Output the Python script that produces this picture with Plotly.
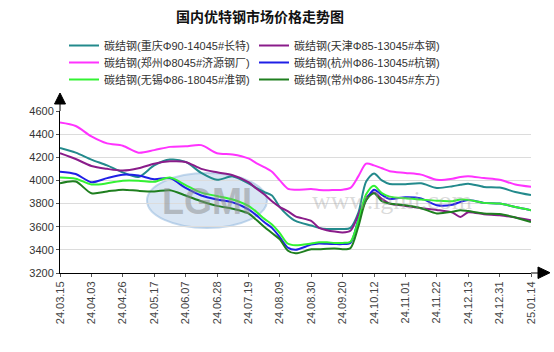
import plotly.graph_objects as go

# tick labels (category dates, equally spaced)
tick_labels = ["24.03.15", "24.04.03", "24.04.26", "24.05.17", "24.06.07", "24.06.28",
               "24.07.19", "24.08.09", "24.08.30", "24.09.20", "24.10.12", "24.11.01",
               "24.11.22", "24.12.13", "24.12.31", "25.01.14"]

# sample positions measured in tick-index units
positions = [0, 0.5, 1, 1.5, 2, 2.5, 3, 3.5, 4, 4.5, 5, 5.5, 6, 6.25, 6.5, 6.75, 7, 7.25, 7.5,
             8, 8.25, 8.5, 8.75, 9, 9.25, 9.5, 9.75, 10, 10.25, 10.5, 11, 11.5, 12, 12.5,
             12.75, 13, 13.5, 14, 14.5, 15]

chongqing = [4280, 4240, 4180, 4130, 4070, 4030, 4130, 4180, 4160, 4065, 4005, 4035, 3975, 3935,
             3900, 3870, 3770, 3700, 3650, 3610, 3590, 3580, 3580, 3580, 3590, 3720, 3990, 4060,
             4000, 3970, 3968, 3975, 3935, 3950, 3962, 3972, 3944, 3938, 3900, 3873]
tianjin = [4235, 4185, 4125, 4100, 4085, 4105, 4145, 4165, 4160, 4100, 4070, 4045, 3985, 3930,
           3880, 3820, 3770, 3735, 3690, 3650, 3590, 3570, 3558, 3550, 3565, 3700, 3850, 3895,
           3840, 3800, 3780, 3760, 3745, 3722, 3685, 3725, 3708, 3700, 3680, 3656]
zhengzhou = [4500, 4470, 4380, 4320, 4300, 4240, 4262, 4290, 4295, 4305, 4235, 4225, 4190, 4150,
             4115, 4075, 4000, 3930, 3920, 3925, 3918, 3915, 3918, 3920, 3935, 4035, 4145, 4130,
             4105, 4080, 4065, 4050, 4005, 4015, 4030, 4037, 4020, 4005, 3965, 3945]
hangzhou = [4075, 4055, 3985, 4020, 4050, 4042, 4010, 4020, 3935, 3870, 3835, 3810, 3750, 3700,
            3640, 3590, 3510, 3420, 3400, 3445, 3455, 3452, 3450, 3450, 3460, 3660, 3830, 3920,
            3875, 3840, 3855, 3845, 3785, 3790, 3815, 3830, 3806, 3800, 3770, 3743]
wuxi = [4025, 4015, 3965, 3975, 3998, 3998, 3988, 4025, 3960, 3895, 3865, 3835, 3780, 3730,
        3670, 3620, 3545, 3455, 3440, 3455, 3465, 3465, 3460, 3460, 3470, 3650, 3880, 3955,
        3890, 3860, 3845, 3835, 3825, 3820, 3835, 3832, 3806, 3800, 3770, 3743]
changzhou = [3975, 3990, 3890, 3905, 3920, 3910, 3905, 3915, 3870, 3820, 3780, 3755, 3715, 3660,
             3600, 3545, 3490, 3395, 3370, 3405, 3405, 3410, 3412, 3405, 3415, 3600, 3830, 3890,
             3820, 3800, 3785, 3760, 3715, 3730, 3743, 3735, 3714, 3710, 3680, 3641]

series_names = ["碳结钢(重庆Φ90-14045#长特)", "碳结钢(天津Φ85-13045#本钢)",
                "碳结钢(郑州Φ8045#济源钢厂)", "碳结钢(杭州Φ86-13045#杭钢)",
                "碳结钢(无锡Φ86-18045#淮钢)", "碳结钢(常州Φ86-13045#东方)"]
series_values = [chongqing, tianjin, zhengzhou, hangzhou, wuxi, changzhou]
series_colors = ["#238a8c", "#8a1c8a", "#ff33ff", "#1f1fe6", "#33f233", "#1f7f1f"]
legend_rows = ["legend", "legend", "legend2", "legend2", "legend3", "legend3"]

y_ticks = [3200, 3400, 3600, 3800, 4000, 4200, 4400, 4600]

fig = go.Figure()
for name, vals, col, lg in zip(series_names, series_values, series_colors, legend_rows):
    fig.add_trace(go.Scatter(x=positions, y=vals, name=name, mode="lines", legend=lg,
                             line=dict(color=col, width=2, shape="spline", smoothing=0.8)))

# plot area geometry in pixels (used for arrows / decorations)
W, H = 554, 352
ml, mr, mt, mb = 60, 23, 111, 79
pw, ph = W - ml - mr, H - mt - mb

def px(xp):
    return (xp - ml) / pw

def py(yp):
    return (H - mb - yp) / ph

shapes = [
    # watermark ellipse
    dict(type="circle", xref="paper", yref="paper", x0=px(147), x1=px(267), y0=py(228), y1=py(173),
         fillcolor="rgba(170,200,230,0.45)", line=dict(color="rgba(140,180,220,0.5)", width=2),
         layer="below"),
    # y axis extension + arrow
    dict(type="line", xref="paper", yref="paper", x0=0, x1=0, y0=1, y1=py(100),
         line=dict(color="black", width=1)),
    dict(type="path", xref="paper", yref="paper",
         path=f"M {px(54.5)} {py(104)} L {px(65.5)} {py(104)} L {px(60)} {py(93)} Z",
         fillcolor="black", line=dict(color="black", width=1)),
    # x axis extension + arrow
    dict(type="line", xref="paper", yref="paper", x0=1, x1=px(540), y0=0, y1=0,
         line=dict(color="black", width=1)),
    dict(type="path", xref="paper", yref="paper",
         path=f"M {px(538)} {py(267)} L {px(538)} {py(278.5)} L {px(550)} {py(272.7)} Z",
         fillcolor="black", line=dict(color="black", width=1)),
]

annotations = [
    dict(text="<b>LGMI</b>", xref="paper", yref="paper", x=px(207), y=py(201), showarrow=False,
         xanchor="center", yanchor="middle",
         font=dict(family="Liberation Sans", size=36, color="rgba(140,140,140,0.5)")),
    dict(text="www.lgmi.com", xref="paper", yref="paper", x=px(392), y=py(200), showarrow=False,
         xanchor="center", yanchor="middle",
         font=dict(family="Liberation Serif", size=26, color="rgba(160,160,160,0.4)")),
]

def legend_box(top):
    return dict(orientation="h", x=px(64), xanchor="left", y=py(top), yanchor="top",
                entrywidth=145, entrywidthmode="pixels", traceorder="normal",
                font=dict(family="Liberation Sans, Noto Sans CJK SC", size=11, color="#333333"),
                bgcolor="rgba(0,0,0,0)", itemwidth=30)

fig.update_layout(
    width=W, height=H,
    margin=dict(l=ml, r=mr, t=mt, b=mb, pad=0),
    paper_bgcolor="white", plot_bgcolor="white",
    font=dict(family="Liberation Sans, Noto Sans CJK SC", size=11, color="#333333"),
    title=dict(text="<b>国内优特钢市场价格走势图</b>", x=260 / W, xanchor="center",
               y=1 - 17 / H, yanchor="middle",
               font=dict(family="Noto Sans CJK SC", size=14, color="#111111")),
    showlegend=True,
    legend=legend_box(31),
    legend2=legend_box(48),
    legend3=legend_box(65),
    xaxis=dict(range=[0, 15], tickmode="array", tickvals=list(range(len(tick_labels))),
               ticktext=tick_labels, tickangle=-90, showgrid=False, zeroline=False,
               showline=True, linecolor="black", linewidth=1,
               ticks="outside", ticklen=3, tickcolor="#555555",
               tickfont=dict(family="Liberation Sans", size=11, color="#444444")),
    yaxis=dict(range=[3200, 4600], tickmode="array", tickvals=y_ticks,
               showgrid=True, gridcolor="#dcdcdc", gridwidth=1, zeroline=False,
               showline=True, linecolor="black", linewidth=1,
               ticks="outside", ticklen=3, tickcolor="#555555",
               tickfont=dict(family="Liberation Sans", size=11, color="#333333")),
    shapes=shapes,
    annotations=annotations,
)

fig.write_html("out.html")
